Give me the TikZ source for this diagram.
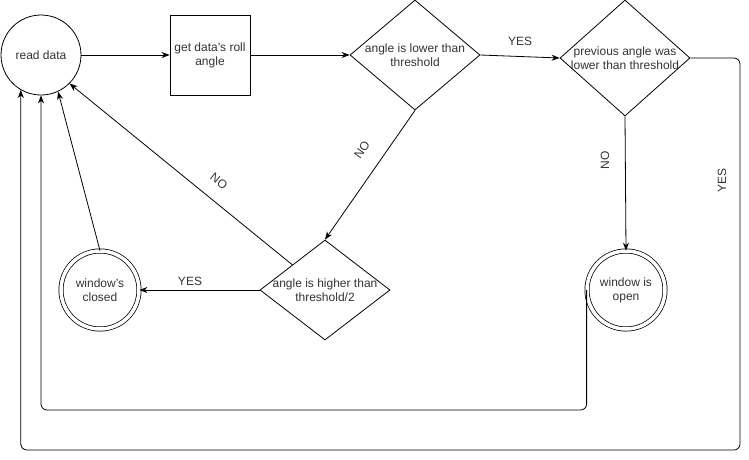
\documentclass[tikz,border=0pt]{standalone}
\usepackage{fontspec}
\setmainfont{Liberation Sans}
\usetikzlibrary{shapes.geometric,arrows.meta}
\definecolor{txtgray}{HTML}{333333}
\begin{document}
\begin{tikzpicture}[x=1pt,y=-1pt,
  every node/.style={font=\fontsize{12}{14}\selectfont, text=txtgray},
  state/.style={circle, draw, line width=0.8pt, minimum size=80pt, inner sep=0pt, align=center},
  final/.style={circle, draw, line width=0.75pt, double, double distance=3.5pt, minimum size=78pt, inner sep=0pt, align=center},
  stepbox/.style={rectangle, draw, line width=0.8pt, minimum width=80pt, minimum height=80pt, inner sep=0pt, align=center},
  dia/.style={diamond, draw, line width=0.8pt, inner sep=0pt, minimum width=130pt},
  caption/.style={align=center, inner sep=0pt},
  lbl/.style={inner sep=0pt},
  arr/.style={draw, line width=0.8pt, -{Stealth[length=8pt,width=6pt,inset=2.5pt]}},
  loop/.style={arr, rounded corners=6pt}
]
\useasboundingbox (0,0) rectangle (749,459);

% nodes
\node[state] (read) at (41,55) {read data};
\node[stepbox] (roll) at (210,55) {get data's roll\\angle};

\node[dia, minimum height=110pt] (low) at (415,55) {};
\node[caption] (lowt) at (low) {angle is lower than\\threshold};

\node[dia, minimum height=116pt] (prev) at (625,58) {};
\node[caption] (prevt) at (prev) {previous angle was\\lower than threshold};

\node[dia, minimum height=100pt] (high) at (325,290) {};
\node[caption] (hight) at (high) {angle is higher than\\threshold/2};

\node[final] (closed) at (100,290) {window's\\closed};
\node[final] (open) at (626,290) {window is\\open};

% corner points of the return loops
\coordinate (outer) at (740,450);
\coordinate (inner) at (41,410);

% connectors
\draw[arr] (read.east) -- (roll.west);
\draw[arr] (roll.east) -- (low.west);
\draw[arr] (low.east) -- (prev.west);
\draw[arr] (prev.south) -- (open.north);
\draw[arr] (low.south) -- (high.north);
\draw[arr] (high.west) -- (closed.east);
\draw[arr] (closed.north) -- (read.-65);
\draw[arr] (high.north west) -- (read.-45);
\draw[loop] (prev.east) -| (outer) -| (read.-120);
\draw[loop] (open.west) |- (inner) -- (read.south);

% connector labels
\node[lbl] (yes1) at (520,41) {YES};
\node[lbl, rotate=90] (yes2) at (722,180) {YES};
\node[lbl, rotate=90] (no1) at (605,160) {NO};
\node[lbl, rotate=55] (no2) at (362,150) {NO};
\node[lbl, rotate=-39] (no3) at (219,181) {NO};
\node[lbl] (yes3) at (190,281) {YES};
\end{tikzpicture}
\end{document}
